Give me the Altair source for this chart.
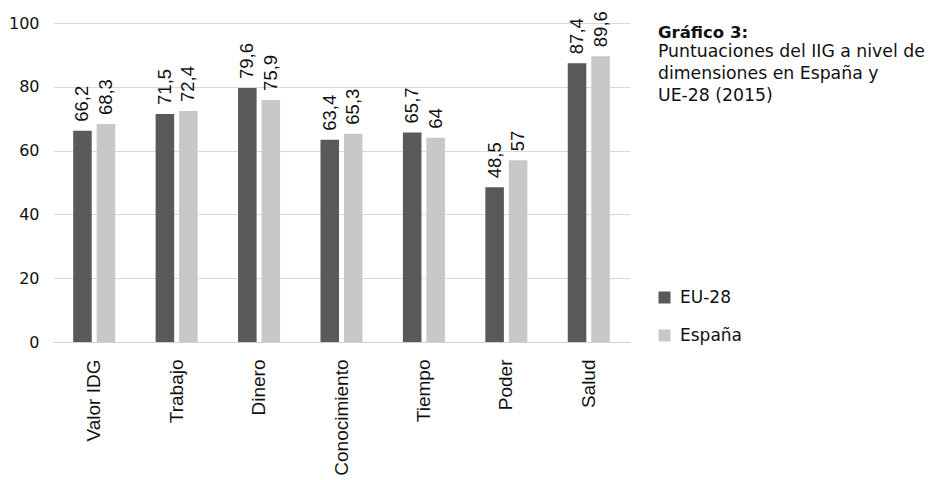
import altair as alt
import pandas as pd

categorias = ["Valor IDG", "Trabajo", "Dinero", "Conocimiento", "Tiempo", "Poder", "Salud"]
eu28 = [66.2, 71.5, 79.6, 63.4, 65.7, 48.5, 87.4]
espana = [68.3, 72.4, 75.9, 65.3, 64.0, 57.0, 89.6]
series = ["EU-28", "España"]
colores = ["#595959", "#c8c8c8"]
titulo = "Gráfico 3:"
subtitulo = ["Puntuaciones del IIG a nivel de", "dimensiones en España y", "UE-28 (2015)"]

rows = []
for i, c in enumerate(categorias):
    for s, vals in zip(series, [eu28, espana]):
        v = vals[i]
        rows.append({"cat": c, "serie": s, "valor": v, "etiqueta": f"{v:g}".replace(".", ",")})
df = pd.DataFrame(rows)

FONT = "DejaVu Sans"
ARIAL = "Liberation Sans"

x = alt.X("cat:N", sort=categorias, title=None,
          scale=alt.Scale(paddingInner=0.49, paddingOuter=0.245),
          axis=alt.Axis(labelAngle=270, labelAlign="right", labelBaseline="middle",
                        labelPadding=17, ticks=False, domainColor="#d0d0d0",
                        labelFontSize=19, labelColor="#111111", labelFont=ARIAL))
xo = alt.XOffset("serie:N", sort=series, scale=alt.Scale(paddingInner=0.21, paddingOuter=0))
y = alt.Y("valor:Q", title=None,
          scale=alt.Scale(domain=[0, 100], nice=False),
          axis=alt.Axis(values=[0, 20, 40, 60, 80, 100], domain=False, ticks=False,
                        labelPadding=14, gridColor="#d9d9d9", labelFontSize=16,
                        labelColor="#111111", labelFont=FONT))

color = alt.Color("serie:N", sort=series, title=None,
                  scale=alt.Scale(domain=series, range=colores),
                  legend=alt.Legend(orient="none", legendX=603, legendY=266,
                                    symbolType="square", symbolSize=144,
                                    symbolStrokeWidth=0, labelFontSize=17,
                                    labelFont=FONT, labelColor="#111111",
                                    rowPadding=20, labelOffset=7, padding=0))

bars = alt.Chart(df).mark_bar().encode(x=x, xOffset=xo, y=y, color=color)

labels = alt.Chart(df).mark_text(angle=270, align="left", baseline="middle", dx=9,
                                 fontSize=18.5, font=ARIAL, color="#111111").encode(
    x=alt.X("cat:N", sort=categorias), xOffset=alt.XOffset("serie:N", sort=series),
    y="valor:Q", text="etiqueta:N")

t1 = alt.Chart(pd.DataFrame({"t": [titulo]})).mark_text(
    align="left", baseline="alphabetic", fontSize=16.5, fontWeight="bold", font=FONT, color="#111111"
).encode(text="t:N", x=alt.value(605), y=alt.value(15))

sub = alt.Chart(pd.DataFrame({"t": ["\n".join(subtitulo)]})).mark_text(
    align="left", baseline="alphabetic", fontSize=17.3, font=FONT, color="#111111",
    lineHeight=22, lineBreak="\n"
).encode(text="t:N", x=alt.value(605), y=alt.value(34))

chart = alt.layer(bars, labels, t1, sub).properties(
    width=577, height=319,
    padding={"left": 45, "top": 15, "right": 297, "bottom": 138},
    autosize=alt.AutoSizeParams(type="none"),
).configure(background="white", view=alt.ViewConfig(stroke=None))

chart.save("out.html", embed_options={"renderer": "svg", "actions": False})
